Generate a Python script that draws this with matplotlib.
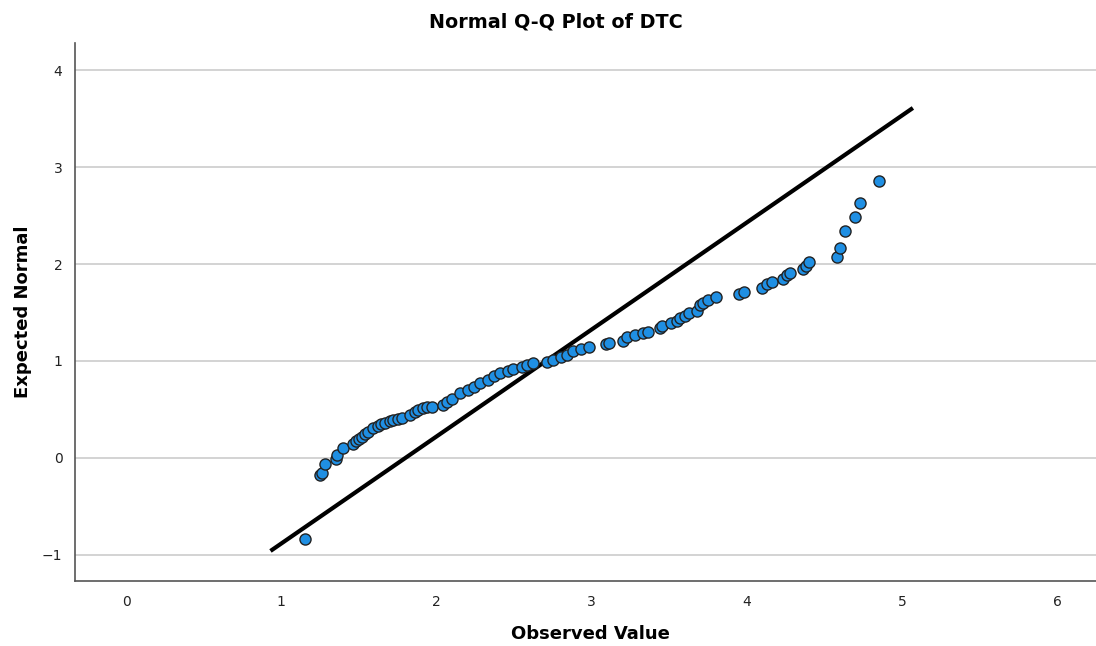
import matplotlib
matplotlib.use("Agg")
import matplotlib.pyplot as plt

# observed DTC values and their expected normal quantiles
observed = [1.15, 1.25, 1.26, 1.28, 1.35, 1.36, 1.40, 1.46, 1.48, 1.50,
            1.52, 1.54, 1.56, 1.59, 1.62, 1.64, 1.67, 1.70, 1.72, 1.75,
            1.78, 1.83, 1.86, 1.88, 1.91, 1.94, 1.97, 2.04, 2.07, 2.10,
            2.15, 2.20, 2.24, 2.28, 2.33, 2.37, 2.41, 2.46, 2.49, 2.55,
            2.58, 2.62, 2.71, 2.75, 2.80, 2.84, 2.88, 2.93, 2.98, 3.09,
            3.11, 3.20, 3.23, 3.28, 3.33, 3.36, 3.44, 3.45, 3.51, 3.55,
            3.57, 3.60, 3.63, 3.68, 3.70, 3.72, 3.75, 3.80, 3.95, 3.98,
            4.10, 4.13, 4.16, 4.23, 4.26, 4.28, 4.36, 4.38, 4.40, 4.58,
            4.60, 4.63, 4.70, 4.73, 4.85]
expected = [-0.84, -0.18, -0.16, -0.06, -0.01, 0.03, 0.10, 0.14, 0.17, 0.20,
            0.22, 0.25, 0.27, 0.31, 0.33, 0.35, 0.36, 0.38, 0.39, 0.40,
            0.41, 0.44, 0.47, 0.49, 0.51, 0.52, 0.53, 0.55, 0.58, 0.61,
            0.67, 0.70, 0.73, 0.77, 0.80, 0.84, 0.88, 0.90, 0.92, 0.94,
            0.96, 0.98, 0.99, 1.01, 1.04, 1.06, 1.10, 1.12, 1.14, 1.18,
            1.19, 1.21, 1.25, 1.27, 1.29, 1.30, 1.34, 1.36, 1.39, 1.41,
            1.44, 1.46, 1.49, 1.52, 1.58, 1.60, 1.63, 1.66, 1.69, 1.71,
            1.75, 1.79, 1.81, 1.85, 1.89, 1.91, 1.95, 1.98, 2.02, 2.07,
            2.17, 2.34, 2.49, 2.63, 2.86]

# reference line end points
line_x = [0.93, 5.07]
line_y = [-0.96, 3.61]

x_ticks = [0, 1, 2, 3, 4, 5, 6]
y_ticks = [-1, 0, 1, 2, 3, 4]

fig = plt.figure(figsize=(10.96, 6.46), dpi=100)
ax = fig.add_axes([0.0684, 0.1006, 0.9316, 0.8328])

ax.plot(line_x, line_y, color="black", linewidth=3, solid_capstyle="butt", zorder=2)
ax.scatter(observed, expected, s=64, color="#1f8fe3", edgecolor="#222222",
           linewidth=1, zorder=3)

ax.set_xlim(-0.33, 6.25)
ax.set_ylim(-1.27, 4.28)
ax.set_xticks(x_ticks)
ax.set_yticks(y_ticks)
ax.set_yticklabels(["\u22121", "0", "1", "2", "3", "4"])
ax.tick_params(length=0, labelsize=10, colors="#222222", pad=9)
ax.tick_params(axis="x", pad=10)
ax.grid(axis="y", color="#d0d0d0", linewidth=1.3)
ax.set_axisbelow(True)

for side in ["top", "right"]:
    ax.spines[side].set_visible(False)
for side in ["left", "bottom"]:
    ax.spines[side].set_color("#555555")
    ax.spines[side].set_linewidth(1.2)

# axis titles and chart title placed on the figure
fig.text(0.539, 0.019, "Observed Value", fontsize=13, fontweight="bold",
         ha="center", va="center")
fig.text(0.021, 0.517, "Expected Normal", fontsize=13, fontweight="bold",
         rotation=90, ha="center", va="center")
fig.text(0.507, 0.966, "Normal Q-Q Plot of DTC", fontsize=13.8, fontweight="bold",
         ha="center", va="center")

fig.savefig("out.png", dpi=100)
